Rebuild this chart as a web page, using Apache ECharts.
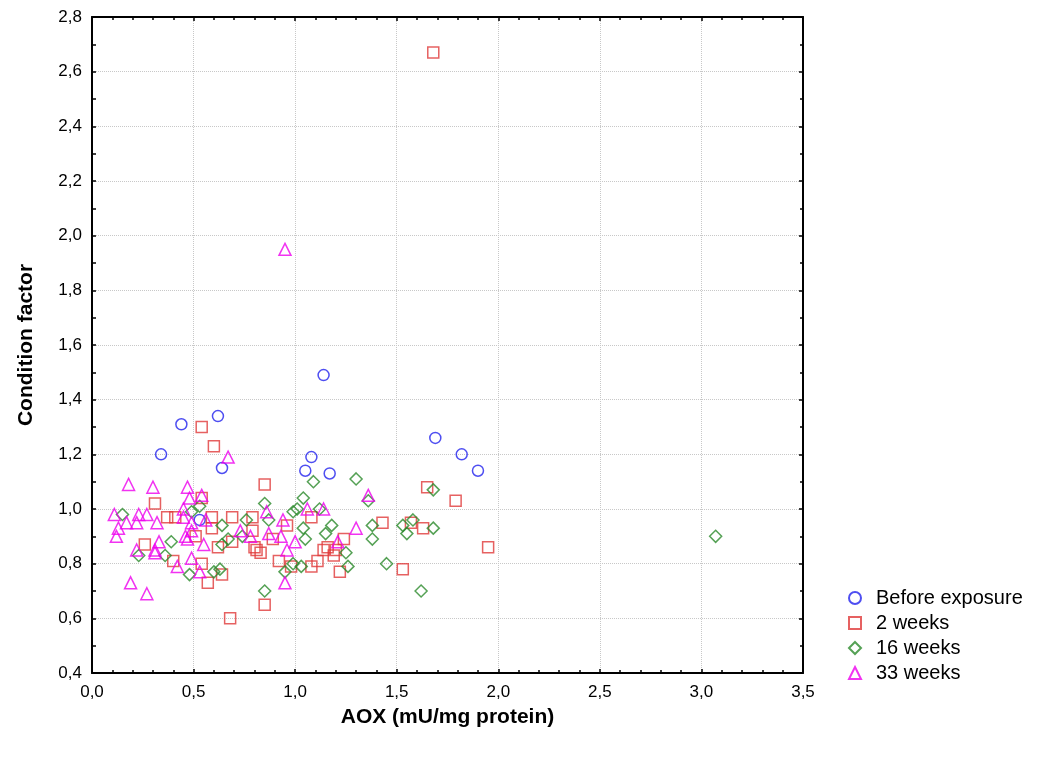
<!DOCTYPE html>
<html>
<head>
<meta charset="utf-8">
<script src="https://cdn.jsdelivr.net/npm/echarts@6/dist/echarts.min.js"></script>
<style>
  html, body { margin: 0; padding: 0; background: #fff; }
  #main { width: 1042px; height: 767px; }
</style>
</head>
<body>
<div id="main"></div>
<script>
// AOX (x) vs condition factor (y), one list per sampling time
var seriesNames = ['Before exposure', '2 weeks', '16 weeks', '33 weeks'];

var beforeExposure = [
  [0.34, 1.20], [0.44, 1.31], [0.62, 1.34], [0.64, 1.15], [0.53, 0.96],
  [1.05, 1.14], [1.08, 1.19], [1.14, 1.49], [1.17, 1.13], [1.69, 1.26],
  [1.82, 1.20], [1.90, 1.14]
];

var weeks2 = [
  [0.31, 1.02], [0.37, 0.97], [0.41, 0.97], [0.54, 1.04], [0.54, 1.30],
  [0.60, 1.23], [0.59, 0.97], [0.59, 0.93], [0.69, 0.97], [0.79, 0.97],
  [0.79, 0.92], [0.51, 0.90], [0.26, 0.87], [0.62, 0.86], [0.69, 0.88],
  [0.80, 0.86], [0.81, 0.85], [0.83, 0.84], [0.40, 0.81], [0.54, 0.80],
  [0.57, 0.73], [0.64, 0.76], [0.68, 0.60], [0.85, 0.65], [0.85, 1.09],
  [1.65, 1.08], [1.08, 0.97], [0.96, 0.94], [1.43, 0.95], [1.57, 0.95],
  [1.63, 0.93], [0.89, 0.89], [1.24, 0.89], [1.14, 0.85], [1.16, 0.86],
  [1.20, 0.85], [1.19, 0.83], [0.92, 0.81], [0.98, 0.79], [1.11, 0.81],
  [1.08, 0.79], [1.22, 0.77], [1.53, 0.78], [1.79, 1.03], [1.95, 0.86],
  [1.68, 2.67]
];

var weeks16 = [
  [0.15, 0.98], [0.49, 0.99], [0.53, 1.01], [0.64, 0.94], [0.76, 0.96],
  [0.85, 1.02], [0.39, 0.88], [0.36, 0.83], [0.23, 0.83], [0.64, 0.87],
  [0.67, 0.89], [0.74, 0.90], [0.48, 0.76], [0.60, 0.77], [0.63, 0.78],
  [0.85, 0.70], [1.09, 1.10], [1.30, 1.11], [1.04, 1.04], [1.01, 1.00],
  [0.99, 0.99], [1.12, 1.00], [1.36, 1.03], [0.87, 0.96], [1.04, 0.93],
  [1.18, 0.94], [1.15, 0.91], [1.05, 0.89], [1.38, 0.94], [1.38, 0.89],
  [1.53, 0.94], [1.55, 0.91], [1.58, 0.96], [1.68, 0.93], [1.68, 1.07],
  [1.25, 0.84], [1.26, 0.79], [1.45, 0.80], [1.62, 0.70], [0.99, 0.80],
  [0.95, 0.77], [1.03, 0.79], [3.07, 0.90]
];

var weeks33 = [
  [0.67, 1.19], [0.18, 1.09], [0.30, 1.08], [0.47, 1.08], [0.54, 1.05],
  [0.48, 1.04], [0.45, 1.00], [0.11, 0.98], [0.23, 0.98], [0.27, 0.98],
  [0.45, 0.97], [0.56, 0.96], [0.17, 0.95], [0.22, 0.95], [0.32, 0.95],
  [0.49, 0.95], [0.13, 0.93], [0.12, 0.90], [0.46, 0.90], [0.47, 0.89],
  [0.49, 0.92], [0.73, 0.92], [0.78, 0.90], [0.33, 0.88], [0.55, 0.87],
  [0.22, 0.85], [0.31, 0.85], [0.31, 0.84], [0.49, 0.82], [0.42, 0.79],
  [0.53, 0.77], [0.19, 0.73], [0.27, 0.69], [0.86, 0.99], [0.94, 0.96],
  [1.06, 1.00], [1.14, 1.00], [1.36, 1.05], [0.87, 0.91], [0.93, 0.90],
  [1.00, 0.88], [0.96, 0.85], [1.21, 0.88], [1.30, 0.93], [0.95, 0.73],
  [0.95, 1.95]
];

var chart = echarts.init(document.getElementById('main'));

var font = "'Liberation Sans', Arial, sans-serif";
var comma = function (v) { return v.toFixed(1).replace('.', ','); };

// top and right edges of the box, ticks only
function frameAxis(pos) {
  return {
    type: 'value',
    position: pos,
    min: pos === 'top' ? 0 : 0.4,
    max: pos === 'top' ? 3.5 : 2.8,
    interval: pos === 'top' ? 0.5 : 0.2,
    axisLine: { show: true, onZero: false, lineStyle: { color: '#000', width: 2 } },
    axisTick: { show: true, inside: true, length: 4, lineStyle: { color: '#000', width: 1.5 } },
    minorTick: { show: true, splitNumber: pos === 'top' ? 5 : 2, length: 3, lineStyle: { color: '#000', width: 1.5 } },
    axisLabel: { show: false },
    splitLine: { show: false }
  };
}

function makeSeries(name, data, symbol, size, color) {
  return {
    name: name,
    type: 'scatter',
    data: data,
    symbol: symbol,
    symbolSize: size,
    itemStyle: { color: 'rgba(0,0,0,0)', borderColor: color, borderWidth: 1.5 },
    emphasis: { disabled: true }
  };
}

var option = {
  backgroundColor: '#fff',
  animation: false,
  grid: { left: 92, right: 239, top: 17, bottom: 94 },
  legend: {
    orient: 'vertical',
    left: 843,
    top: 582,
    itemWidth: 12,
    itemHeight: 12,
    itemGap: 3,
    data: seriesNames,
    textStyle: { fontFamily: font, fontSize: 20, color: '#000', padding: [0, 0, 0, 10], lineHeight: 22 }
  },
  xAxis: [{
    type: 'value',
    min: 0, max: 3.5, interval: 0.5,
    name: 'AOX (mU/mg protein)',
    nameLocation: 'middle',
    nameGap: 34,
    nameTextStyle: { fontFamily: font, fontWeight: 'bold', fontSize: 21, color: '#000' },
    axisLine: { show: true, onZero: false, lineStyle: { color: '#000', width: 2 } },
    axisTick: { show: true, inside: true, length: 4, lineStyle: { color: '#000', width: 1.5 } },
    minorTick: { show: true, splitNumber: 5, length: 3, lineStyle: { color: '#000', width: 1.5 } },
    axisLabel: { formatter: comma, fontFamily: font, fontSize: 17, color: '#000', margin: 11 },
    splitLine: { show: true, lineStyle: { color: '#c8c8c8', type: 'dotted', width: 1 } }
  }, frameAxis('top')],
  yAxis: [{
    type: 'value',
    min: 0.4, max: 2.8, interval: 0.2,
    name: 'Condition factor',
    nameLocation: 'middle',
    nameGap: 55,
    nameTextStyle: { fontFamily: font, fontWeight: 'bold', fontSize: 21, color: '#000' },
    axisLine: { show: true, onZero: false, lineStyle: { color: '#000', width: 2 } },
    axisTick: { show: true, inside: true, length: 4, lineStyle: { color: '#000', width: 1.5 } },
    minorTick: { show: true, splitNumber: 2, length: 4, lineStyle: { color: '#000', width: 1.5 } },
    axisLabel: { formatter: comma, fontFamily: font, fontSize: 17, color: '#000', margin: 10 },
    splitLine: { show: true, lineStyle: { color: '#c8c8c8', type: 'dotted', width: 1 } }
  }, frameAxis('right')],
  series: [
    makeSeries(seriesNames[0], beforeExposure, 'circle', 11, '#2222ee'),
    makeSeries(seriesNames[1], weeks2, 'rect', 11, '#e03a3a'),
    makeSeries(seriesNames[2], weeks16, 'diamond', 12, '#2a8a2a'),
    makeSeries(seriesNames[3], weeks33, 'triangle', 12, '#ee00ee')
  ]
};

chart.setOption(option);
</script>
</body>
</html>
